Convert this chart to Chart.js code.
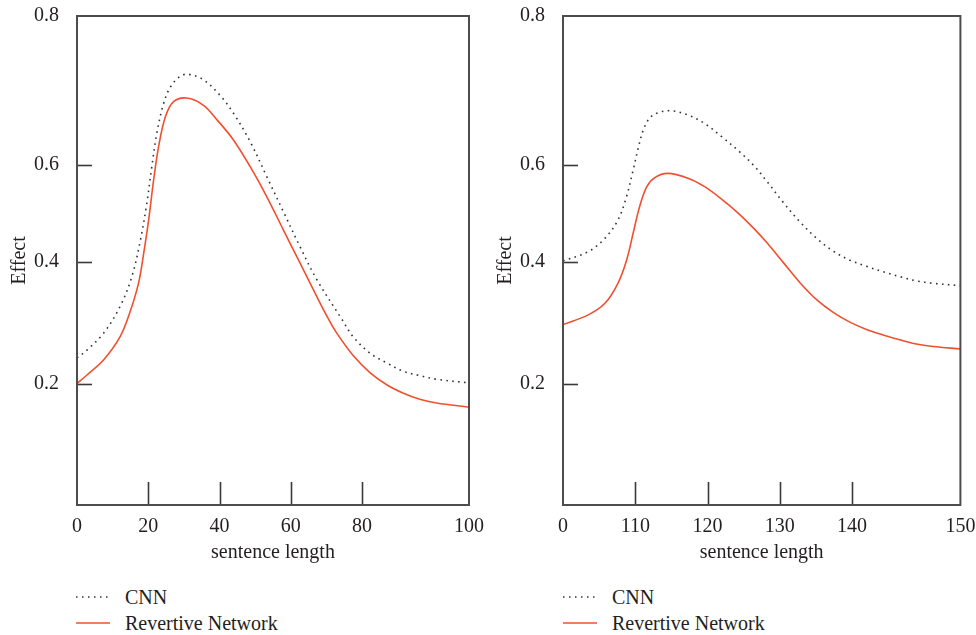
<!DOCTYPE html>
<html>
<head>
<meta charset="utf-8">
<script src="https://cdn.jsdelivr.net/npm/chart.js@4.4.1/dist/chart.umd.min.js"></script>
<style>
  body { margin: 0; background: #fff; font-family: 'Liberation Serif', serif; color: #231f20; }
  #wrap { position: relative; width: 976px; height: 635px; overflow: hidden; }
  .panel { position: absolute; top: 0; }
  .legend { position: absolute; font-size: 20px; line-height: 26px; }
  .legend div { display: flex; align-items: center; height: 26px; }
  .legend svg { margin-right: 15px; }
</style>
</head>
<body>
<div id="wrap">
  <canvas id="leftChart" class="panel" style="left:0px" width="488" height="565"></canvas>
  <canvas id="rightChart" class="panel" style="left:488px" width="488" height="565"></canvas>
  <div class="legend" style="left:76px; top:584px">
    <div><svg width="34" height="4"><line x1="0" y1="2" x2="34" y2="2" stroke="#333" stroke-width="1.5" stroke-dasharray="1.5 4.5"/></svg>CNN</div>
    <div><svg width="34" height="4"><line x1="0" y1="2" x2="34" y2="2" stroke="#f0502f" stroke-width="1.5"/></svg>Revertive Network</div>
  </div>
  <div class="legend" style="left:563px; top:584px">
    <div><svg width="34" height="4"><line x1="0" y1="2" x2="34" y2="2" stroke="#333" stroke-width="1.5" stroke-dasharray="1.5 4.5"/></svg>CNN</div>
    <div><svg width="34" height="4"><line x1="0" y1="2" x2="34" y2="2" stroke="#f0502f" stroke-width="1.5"/></svg>Revertive Network</div>
  </div>
</div>
<script>
// axis ticks (positions on the drawn scale, and the labels printed there)
var yTickPos = [0.2, 0.4, 0.56, 0.805];
var yTickLabels = ['0.2', '0.4', '0.6', '0.8'];

var leftTickPos = [0, 20, 40, 60, 80, 110];
var leftTickLabels = ['0', '20', '40', '60', '80', '100'];
var rightTickPos = [100, 110, 120, 130, 140, 155];
var rightTickLabels = ['0', '110', '120', '130', '140', '150'];

// left panel
var leftCnnX = [0, 2.8, 7.5, 12.1, 15.4, 17.8, 19.6, 21.0, 22.4, 24.3, 26.2, 29.0, 31.3, 35.5, 40.2, 43.9, 48.6, 53.3, 57.9, 62.6, 67.3, 74.3, 77.5, 82.2, 86.9, 91.6, 96.2, 100.9, 110];
var leftCnnY = [0.242, 0.255, 0.283, 0.327, 0.376, 0.436, 0.497, 0.557, 0.612, 0.661, 0.688, 0.706, 0.709, 0.700, 0.674, 0.645, 0.598, 0.540, 0.483, 0.425, 0.371, 0.306, 0.277, 0.250, 0.234, 0.220, 0.213, 0.207, 0.201];
var leftRevX = [0, 2.8, 7.5, 12.1, 14.9, 17.3, 18.7, 20.1, 21.5, 22.9, 24.8, 27.1, 30.8, 35.5, 39.3, 43.9, 48.6, 53.3, 57.9, 62.6, 67.3, 70.4, 72.9, 77.5, 82.2, 86.9, 91.6, 96.2, 100.9, 110];
var leftRevY = [0.200, 0.214, 0.239, 0.277, 0.318, 0.366, 0.414, 0.469, 0.535, 0.590, 0.639, 0.664, 0.670, 0.658, 0.634, 0.601, 0.557, 0.507, 0.453, 0.398, 0.343, 0.308, 0.283, 0.246, 0.218, 0.198, 0.184, 0.174, 0.168, 0.161];

// right panel
var rightCnnX = [100, 103.5, 105.8, 107.6, 108.8, 109.7, 110.4, 111.1, 112.0, 113.2, 115.0, 117.3, 119.6, 121.9, 124.2, 126.4, 128.2, 130.5, 132.8, 135.1, 137.4, 139.7, 142.0, 144.3, 146.6, 148.9, 151.2, 155];
var rightCnnY = [0.402, 0.417, 0.439, 0.469, 0.508, 0.551, 0.587, 0.617, 0.637, 0.646, 0.649, 0.642, 0.628, 0.607, 0.584, 0.559, 0.533, 0.498, 0.466, 0.439, 0.418, 0.403, 0.393, 0.384, 0.376, 0.369, 0.365, 0.361];
var rightRevX = [100, 103.5, 105.8, 107.6, 108.8, 109.7, 110.6, 111.6, 112.7, 114.5, 117.3, 119.6, 121.9, 124.2, 126.6, 128.2, 130.5, 132.8, 135.1, 137.4, 139.7, 142.0, 144.3, 146.6, 148.9, 151.2, 155];
var rightRevY = [0.297, 0.313, 0.332, 0.365, 0.403, 0.447, 0.491, 0.524, 0.539, 0.546, 0.538, 0.524, 0.504, 0.481, 0.453, 0.432, 0.399, 0.366, 0.338, 0.317, 0.301, 0.289, 0.280, 0.272, 0.265, 0.261, 0.257];

var serif = 'Liberation Serif';
var textColor = '#231f20';

function pairs(xs, ys) {
  return xs.map(function (x, i) {
    return { x: x, y: ys[i] };
  });
}

// box round the plot and short ticks pointing inwards
var framePlugin = {
  id: 'frame',
  afterDatasetsDraw: function (chart) {
    var a = chart.chartArea;
    var ctx = chart.ctx;
    var xs = chart.scales.x;
    var ys = chart.scales.y;
    ctx.save();
    ctx.strokeStyle = '#3a3a3a';
    ctx.lineWidth = 1.6;
    xs.ticks.forEach(function (t) {
      if (t.value <= xs.min || t.value >= xs.max) return;
      var px = Math.round(xs.getPixelForValue(t.value)) + 0.5;
      ctx.beginPath();
      ctx.moveTo(px, a.bottom);
      ctx.lineTo(px, a.bottom - 23);
      ctx.stroke();
    });
    ys.ticks.forEach(function (t) {
      if (t.value >= ys.max) return;
      var py = Math.round(ys.getPixelForValue(t.value)) + 0.5;
      ctx.beginPath();
      ctx.moveTo(a.left, py);
      ctx.lineTo(a.left + 15, py);
      ctx.stroke();
    });
    ctx.strokeStyle = '#4d4d4d';
    ctx.lineWidth = 2;
    ctx.strokeRect(a.left, a.top, a.right - a.left, a.bottom - a.top);
    ctx.restore();
  },
};

function makeChart(id, cnn, rev, xMin, xMax, xPos, xLabels, yWidth, yTitlePad, rightPad) {
  var ctx = document.getElementById(id).getContext('2d');
  return new Chart(ctx, {
    type: 'line',
    data: {
      datasets: [
        {
          label: 'CNN',
          data: cnn,
          borderColor: '#333333',
          borderWidth: 1.6,
          borderDash: [1.6, 4.4],
          pointRadius: 0,
          fill: false,
          tension: 0.35,
        },
        {
          label: 'Revertive Network',
          data: rev,
          borderColor: '#f0502f',
          borderWidth: 1.6,
          pointRadius: 0,
          fill: false,
          tension: 0.35,
        },
      ],
    },
    options: {
      responsive: false,
      animation: false,
      layout: { padding: { left: 0, top: 16, right: rightPad, bottom: 0 } },
      scales: {
        x: {
          type: 'linear',
          min: xMin,
          max: xMax,
          grid: { display: false },
          border: { display: false },
          afterBuildTicks: function (scale) {
            scale.ticks = xPos.map(function (v) { return { value: v }; });
          },
          afterFit: function (scale) {
            scale.height = 60;
            scale.paddingLeft = 0;
            scale.paddingRight = 0;
          },
          ticks: {
            autoSkip: false,
            maxRotation: 0,
            padding: 2,
            color: textColor,
            font: { family: serif, size: 20 },
            callback: function (value, index) { return xLabels[index]; },
          },
          title: {
            display: true,
            text: 'sentence length',
            color: textColor,
            font: { family: serif, size: 20 },
            padding: { top: 0, bottom: 0 },
          },
        },
        y: {
          type: 'linear',
          min: 0,
          max: 0.805,
          grid: { display: false },
          border: { display: false },
          afterBuildTicks: function (scale) {
            scale.ticks = yTickPos.map(function (v) { return { value: v }; });
          },
          afterFit: function (scale) {
            scale.width = yWidth;
            scale.paddingTop = 0;
            scale.paddingBottom = 0;
          },
          ticks: {
            autoSkip: false,
            padding: 10,
            color: textColor,
            font: { family: serif, size: 20 },
            callback: function (value, index) { return yTickLabels[index]; },
          },
          title: {
            display: true,
            text: 'Effect',
            color: textColor,
            font: { family: serif, size: 20 },
            padding: { top: yTitlePad, bottom: 0 },
          },
        },
      },
      plugins: {
        legend: { display: false },
        tooltip: { enabled: false },
      },
    },
    plugins: [framePlugin],
  });
}

var leftChart = makeChart('leftChart', pairs(leftCnnX, leftCnnY), pairs(leftRevX, leftRevY),
  0, 110, leftTickPos, leftTickLabels, 77, 8, 19);
var rightChart = makeChart('rightChart', pairs(rightCnnX, rightCnnY), pairs(rightRevX, rightRevY),
  100, 155, rightTickPos, rightTickLabels, 75, 6, 15.6);
</script>
</body>
</html>
